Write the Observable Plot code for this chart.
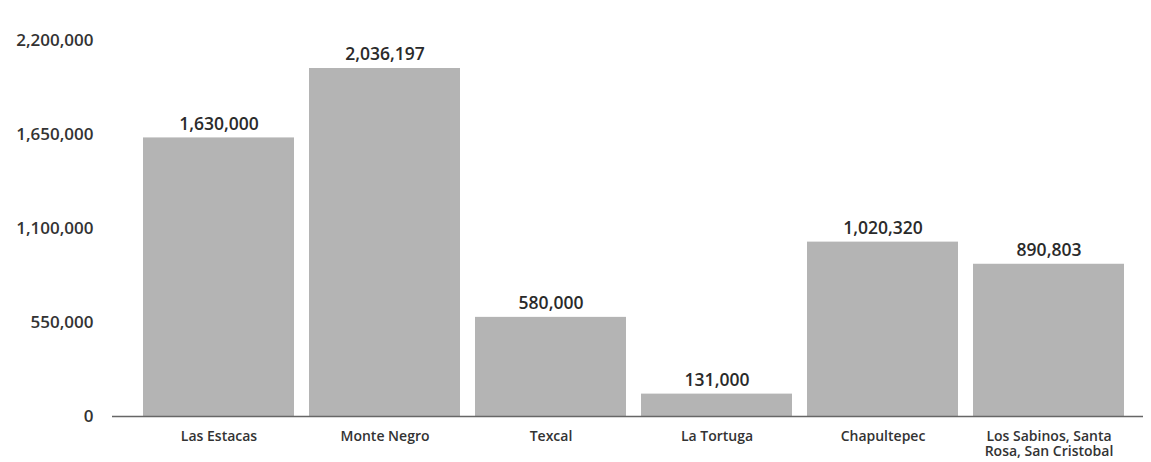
<!DOCTYPE html>
<html>
<head>
<meta charset="utf-8">
<script src="https://cdn.jsdelivr.net/npm/d3@7"></script>
<script src="https://cdn.jsdelivr.net/npm/@observablehq/plot@0.6"></script>
<style>
  html, body { margin: 0; padding: 0; background: #fff; }
  svg { font-family: "Open Sans", "Noto Sans", sans-serif; }
</style>
</head>
<body>
<div id="chart"></div>
<script>
const categories = ["Las Estacas", "Monte Negro", "Texcal", "La Tortuga", "Chapultepec", "Los Sabinos, Santa Rosa, San Cristobal"];
const categoryLabels = ["Las Estacas", "Monte Negro", "Texcal", "La Tortuga", "Chapultepec", "Los Sabinos, Santa\nRosa, San Cristobal"];
const values = [1630000, 2036197, 580000, 131000, 1020320, 890803];
const yTicks = [0, 550000, 1100000, 1650000, 2200000];

const data = categories.map((c, i) => ({category: c, value: values[i]}));
const fmt = d3.format(",");
const labelOf = new Map(categories.map((c, i) => [c, categoryLabels[i]]));

const chart = Plot.plot({
  width: 1151,
  height: 462,
  marginLeft: 135,
  marginRight: 18,
  marginTop: 40,
  marginBottom: 46,
  style: {fontFamily: "'Open Sans', 'Noto Sans', sans-serif", color: "#333", background: "#fff"},
  x: {domain: categories, paddingInner: 0.09, paddingOuter: 0.051, label: null},
  y: {domain: [0, 2200000], label: null},
  marks: [
    Plot.barY(data, {x: "category", y: "value", fill: "#b4b4b4"}),
    Plot.ruleY([0], {stroke: "#666", strokeWidth: 1.5, insetLeft: -23, insetRight: -10}),
    Plot.text(data, {x: "category", y: "value", text: d => fmt(d.value), dy: -14, fontSize: 17.5, fontWeight: 600, fill: "#2a2a2a"}),
    Plot.axisY({ticks: yTicks, tickFormat: fmt, tickSize: 0, tickPadding: 42, fontSize: 17, fontWeight: 600, fill: "#333", label: null}),
    Plot.axisX({tickFormat: d => labelOf.get(d), tickSize: 0, tickPadding: 13, fontSize: 14, fontWeight: 600, lineHeight: 1.12, fill: "#333", label: null})
  ]
});
document.getElementById("chart").appendChild(chart);
</script>
</body>
</html>
